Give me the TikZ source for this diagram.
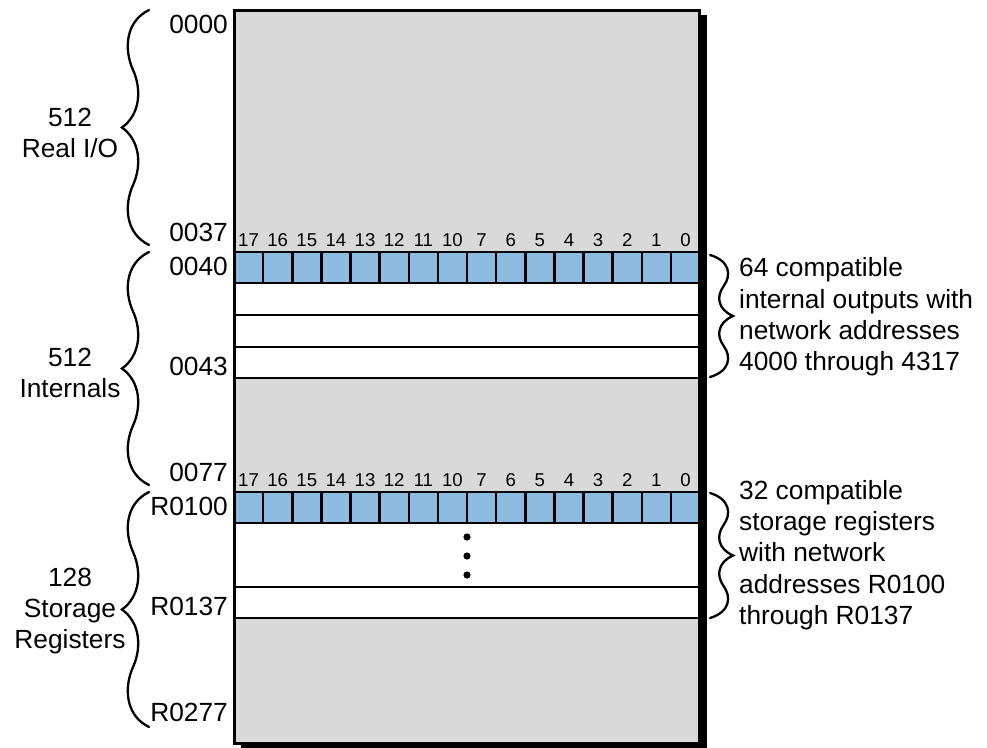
\documentclass[tikz,border=0pt]{standalone}
\usepackage{fontspec}
\setmainfont{Liberation Sans}
\usepackage{tikz}
\usetikzlibrary{arrows.meta}
\definecolor{memgray}{RGB}{217,217,217}
\definecolor{bitblue}{RGB}{141,187,224}

\begin{document}
\begin{tikzpicture}[x=1pt,y=-1pt,
lbl/.style={font=\fontsize{26.3}{31.3}\selectfont,inner sep=0pt},
bitlbl/.style={font=\fontsize{18.6}{20}\selectfont,inner sep=0pt},
rowbox/.style={draw=black,line width=2.5pt},
bracepen/.style={line width=2.3pt,line cap=round},
curl/.pic={\draw[bracepen] (27,-1) .. controls (3,-0.9) and (2,-0.66) .. (11,-0.49)
 .. controls (20,-0.32) and (18,-0.11) .. (0,0)
 .. controls (18,0.11) and (20,0.32) .. (11,0.49)
 .. controls (2,0.66) and (3,0.9) .. (27,1);}]
\useasboundingbox (0,0) rectangle (987,747);
\fill[black] (241,15) rectangle (707,748);
\fill[memgray] (234,10) rectangle (699,743);
\draw[rowbox,fill=white] (234,283) rectangle (699,315);
\draw[rowbox,fill=white] (234,315) rectangle (699,347);
\draw[rowbox,fill=white] (234,347) rectangle (699,378);
\draw[rowbox,fill=white] (234,523) rectangle (699,587);
\draw[rowbox,fill=white] (234,587) rectangle (699,618);
\foreach \y in {252,492}
  \foreach \i in {0,...,15}
    \draw[rowbox,fill=bitblue] ({234+29.125*\i},\y) rectangle ++(29.125,31);
\draw[line width=3pt] (234,10) rectangle (699,743);
\foreach \b [count=\i from 0] in {17,16,15,14,13,12,11,10,7,6,5,4,3,2,1,0}{
  \node[bitlbl] (bita\i) at ({234+29.125*(\i+0.5)},240) {\b};
  \node[bitlbl] (bitb\i) at ({234+29.125*(\i+0.5)},480) {\b};
}
\foreach \y in {537,556,575}
  \fill (467,\y) circle (3.6);
\node[lbl,anchor=east] (a0000) at (228,24) {0000};
\node[lbl,anchor=east] (a0037) at (228,232) {0037};
\node[lbl,anchor=east] (a0040) at (228,266) {0040};
\node[lbl,anchor=east] (a0043) at (228,366) {0043};
\node[lbl,anchor=east] (a0077) at (228,472) {0077};
\node[lbl,anchor=east] (r0100) at (228,506) {R0100};
\node[lbl,anchor=east] (r0137) at (228,606) {R0137};
\node[lbl,anchor=east] (r0277) at (228,712) {R0277};
\pic[yscale=117.5] at (122,127.5) {curl};
\pic[yscale=116.5] at (122,368.5) {curl};
\pic[yscale=117.5] at (122,609.5) {curl};
\pic[xscale=-0.85,yscale=61] at (733,316) {curl};
\pic[xscale=-0.85,yscale=62.5] at (733,555.5) {curl};
\node[lbl,align=center] (realio) at (70,133) {512\\Real I/O};
\node[lbl,align=center] (intern) at (70,373) {512\\Internals};
\node[lbl,align=center] (storreg) at (70,611) {128\\Storage\\Registers};
\node[lbl,align=left,anchor=west] (intout) at (739,317) {64 compatible\\internal outputs with\\network addresses\\4000 through 4317};
\node[lbl,align=left,anchor=west] (storout) at (739,555) {32 compatible\\storage registers\\with network\\addresses R0100\\through R0137};
\end{tikzpicture}
\end{document}
